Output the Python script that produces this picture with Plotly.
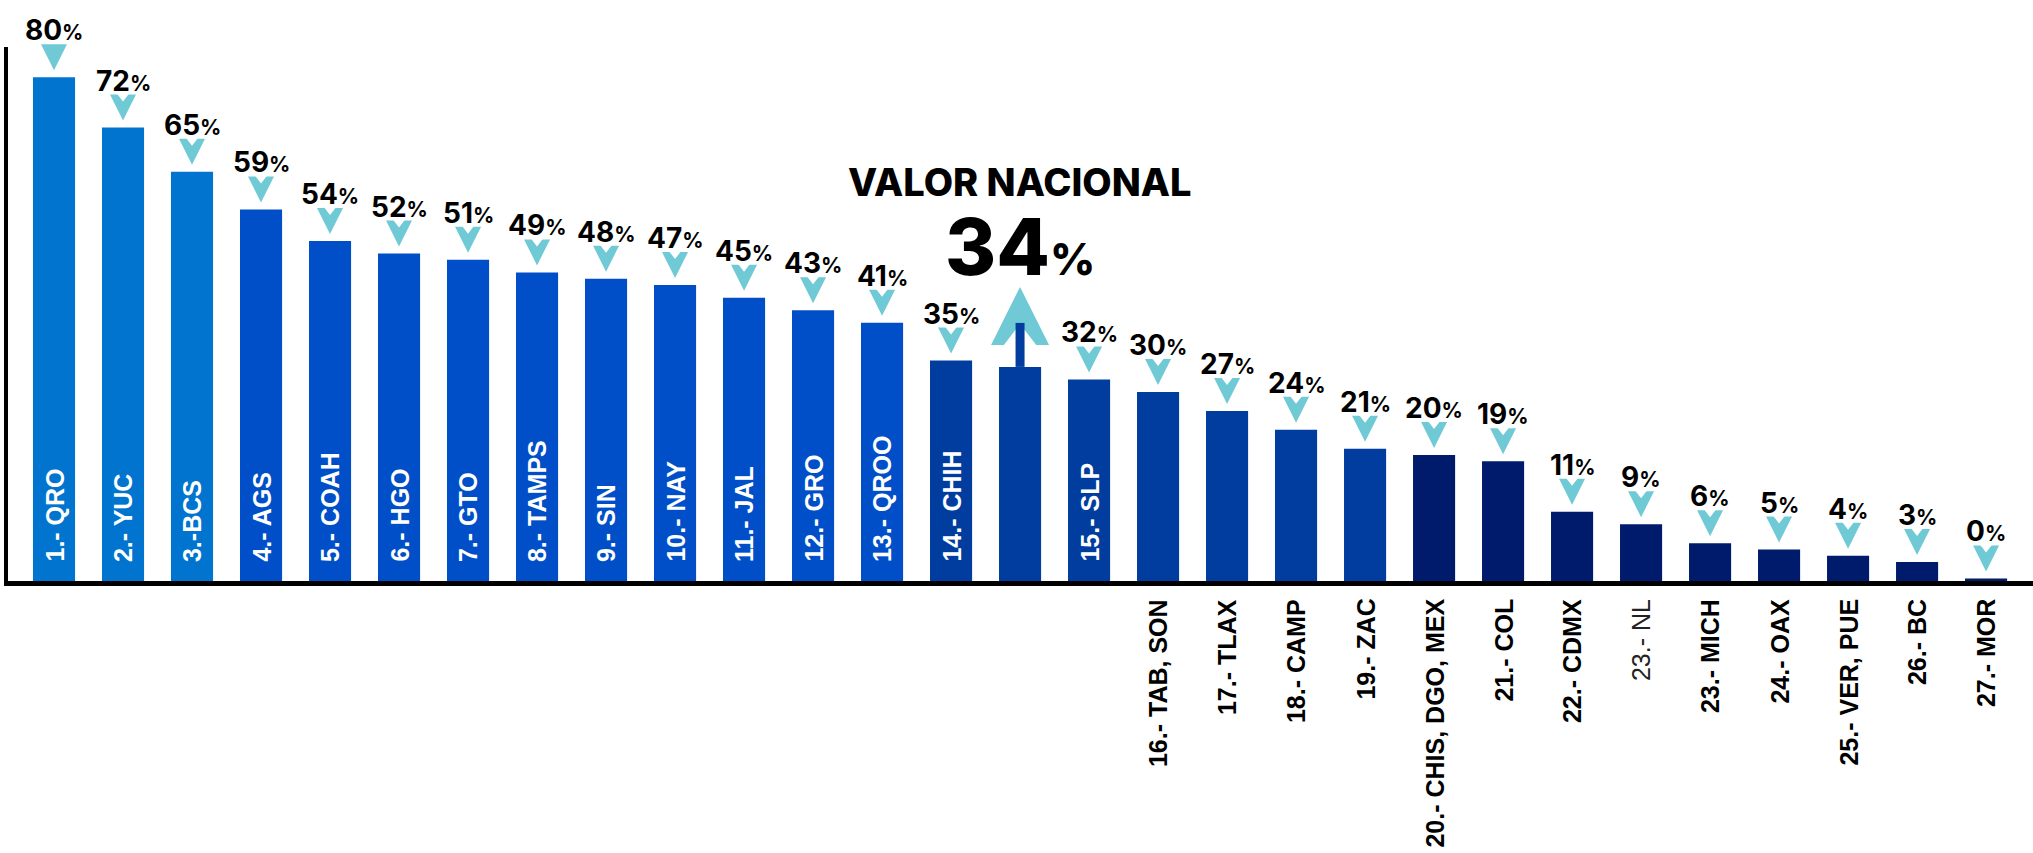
import plotly.graph_objects as go

# ---------------- data ----------------
categories = ["1.- QRO", "2.- YUC", "3.-BCS", "4.- AGS", "5.- COAH", "6.- HGO", "7.- GTO",
              "8.- TAMPS", "9.- SIN", "10.- NAY", "11.- JAL", "12.- GRO", "13.- QROO",
              "14.- CHIH", "NACIONAL", "15.- SLP", "16.- TAB, SON", "17.- TLAX", "18.- CAMP",
              "19.- ZAC", "20.- CHIS, DGO, MEX", "21.- COL", "22.- CDMX", "23.- NL",
              "23.- MICH", "24.- OAX", "25.- VER, PUE", "26.- BC", "27.- MOR"]
values = [80, 72, 65, 59, 54, 52, 51, 49, 48, 47, 45, 43, 41, 35, 34, 32, 30, 27, 24, 21,
          20, 19, 11, 9, 6, 5, 4, 3, 0.4]
national_category = "NACIONAL"
national_value = 34
national_title = "VALOR NACIONAL"
inside_labels = categories[:14] + ["15.- SLP"]
below_labels = categories[16:]
light_labels = ["23.- NL"]

# ---------------- style ----------------
def bar_color(i):
    if i < 3:
        return "#0074CF"
    if i < 13:
        return "#004FC8"
    if i < 20:
        return "#003D9E"
    return "#001A6C"

colors = [bar_color(i) for i in range(len(categories))]
CYAN = "#6FCAD6"

W, H = 2033, 853
ML, MR, MT, MB = 8, 0, 47, 272
YMAX = 84.8
u = YMAX / (H - MT - MB)  # data units per pixel

fig = go.Figure()
fig.add_trace(go.Bar(x=categories, y=values, marker=dict(color=colors, line=dict(width=0)),
                     hoverinfo="skip", showlegend=False))

# small chevrons above bars
arrow_x = [c for c in categories if c != national_category]
arrow_v = [v for c, v in zip(categories, values) if c != national_category]
fig.add_trace(go.Scatter(x=arrow_x, y=[v + 7 * u for v in arrow_v], mode="markers",
                         marker=dict(symbol="arrow-down", size=26, color=CYAN),
                         hoverinfo="skip", showlegend=False, cliponaxis=False))
fig.add_trace(go.Scatter(x=arrow_x, y=[v + 36 * u for v in arrow_v], mode="markers",
                         marker=dict(symbol="triangle-down", size=20, color="white"),
                         hoverinfo="skip", showlegend=False, cliponaxis=False))

# national arrow
fig.add_trace(go.Scatter(x=[national_category], y=[national_value + 80 * u], mode="markers",
                         marker=dict(symbol="arrow-up", size=58, color=CYAN),
                         hoverinfo="skip", showlegend=False, cliponaxis=False))
fig.add_trace(go.Scatter(x=[national_category], y=[national_value + 25 * u], mode="markers",
                         marker=dict(symbol="triangle-up", size=36, color="white"),
                         hoverinfo="skip", showlegend=False, cliponaxis=False))
fig.add_trace(go.Scatter(x=[national_category, national_category],
                         y=[national_value, national_value + 44 * u], mode="lines",
                         line=dict(color="#003D9E", width=9),
                         hoverinfo="skip", showlegend=False, cliponaxis=False))

VAL_FONT = "Inter, Roboto, sans-serif"
LAB_FONT = "Liberation Sans, Arial, sans-serif"
annotations = []
for c, v in zip(categories, values):
    if c == national_category:
        continue
    annotations.append(dict(
        x=c, y=v, xref="x", yref="y", yshift=47, showarrow=False,
        text=f"{round(v)}<span style='font-size:21px'>%</span>",
        font=dict(family=VAL_FONT, size=28, color="black", weight=700),
        xanchor="center", yanchor="middle"))
for c in inside_labels:
    annotations.append(dict(
        x=c, y=0, xref="x", yref="y", yshift=17, showarrow=False, text=c, textangle=-90,
        font=dict(family=LAB_FONT, size=25, color="white", weight=700),
        xanchor="center", yanchor="bottom"))
for c in below_labels:
    light = c in light_labels
    annotations.append(dict(
        x=c, y=0, xref="x", yref="y", yshift=-16, showarrow=False, text=c, textangle=-90,
        font=dict(family=LAB_FONT, size=25, color="#222" if light else "black",
                  weight=400 if light else 700),
        xanchor="center", yanchor="top"))
annotations.append(dict(
    x=national_category, y=national_value, xref="x", yref="y", yshift=185, showarrow=False,
    text=national_title, font=dict(family=VAL_FONT, size=38, color="black", weight=800),
    xanchor="center", yanchor="middle"))
annotations.append(dict(
    x=national_category, y=national_value, xref="x", yref="y", yshift=120, showarrow=False,
    text=f"{national_value}<span style='font-size:44px'>%</span>",
    font=dict(family=VAL_FONT, size=78, color="black", weight=800),
    xanchor="center", yanchor="middle"))

fig.update_layout(
    width=W, height=H,
    margin=dict(l=ML, r=MR, t=MT, b=MB, pad=0),
    paper_bgcolor="white", plot_bgcolor="white",
    bargap=0.39,
    showlegend=False,
    annotations=annotations,
    xaxis=dict(range=[-0.667, 28.68], showticklabels=False, showgrid=False, zeroline=False,
               showline=True, linecolor="black", linewidth=5, ticks=""),
    yaxis=dict(range=[0, YMAX], showticklabels=False, showgrid=False, zeroline=False,
               showline=True, linecolor="black", linewidth=4, ticks=""),
)

fig.write_html("out.html", config={"displayModeBar": False},
               post_script="document.body.style.margin='0';document.body.style.overflow='hidden';")
